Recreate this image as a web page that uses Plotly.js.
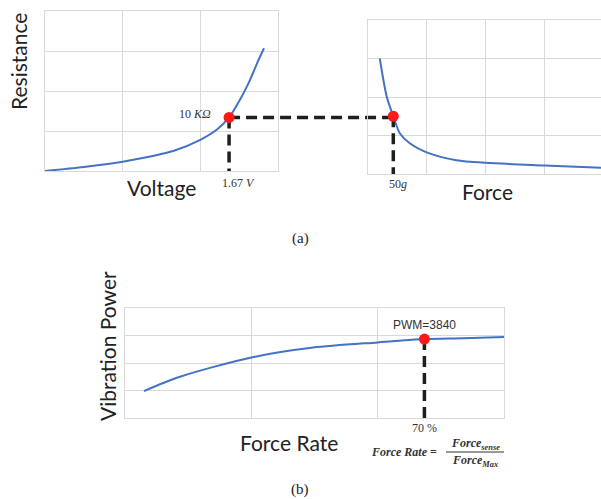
<!DOCTYPE html>
<html>
<head>
<meta charset="utf-8">
<script src="https://cdn.plot.ly/plotly-3.0.1.min.js"></script>
<style>html,body{margin:0;padding:0;background:#fff;}#chart{width:601px;height:499px;}</style>
</head>
<body>
<div id="chart"></div>
<script>
// ---- data (in grid-cell units) ----
const voltX = [0, 0.5, 1, 1.22, 1.65, 2.0, 2.21, 2.37, 2.51, 2.64, 2.75, 2.82];
const resY  = [0, 0.1, 0.23, 0.31, 0.5, 0.78, 1.03, 1.34, 1.78, 2.28, 2.78, 3.07];
const forceX = [0.2, 0.32, 0.43, 0.54, 0.71, 1.02, 1.5, 2.0, 3.0, 3.96];
const forceY = [3.0, 2.0, 1.5, 1.06, 0.8, 0.55, 0.36, 0.29, 0.22, 0.16];
const rateX = [0.15, 0.435, 1.0, 1.49, 2.0, 2.37, 2.68, 3.0];
const rateY = [0.98, 1.5, 2.2, 2.56, 2.75, 2.87, 2.9, 2.95];
// highlighted operating points
const ptVolt = [2.37], ptRes = [1.34];
const ptForce = [0.43], ptForceRes = [1.5];
const ptRate = [2.37], ptPower = [2.87];
// labels
const lblRes = "10 <i>KΩ</i>", lblVolt = "1.67 <i>V</i>", lblForce = "50<i>g</i>";
const lblPWM = "PWM=3840", lblRate = "70 %";

const blue = '#4472c4', red = '#ff1a1a', dashC = '#1e1e1e', gridC = '#d9d9d9';
const W = 601, H = 499;
const px = v => v / W, py = v => 1 - v / H;

const dom1x = [px(45), px(278)], dom1y = [py(171), py(11)], r1x = [0, 3], r1y = [0, 4];
const dom2x = [px(368), 1], dom2y = [py(174), py(20)], r2x = [0, 3.96], r2y = [0, 4];
const dom3x = [px(125), px(504)], dom3y = [py(418), py(308)], r3x = [0, 3], r3y = [0, 4];

function ax(dom, rng, mirror) {
  return {domain: dom, range: rng, dtick: 1, tick0: 0, showticklabels: false, ticks: '',
    showgrid: true, gridcolor: gridC, gridwidth: 1, zeroline: false,
    showline: true, linecolor: gridC, linewidth: 1, mirror: mirror, fixedrange: true};
}

const dashStyle = {color: dashC, width: 3.5, dash: '11px,6px'};
const curve = (x, y, xa, ya) => ({x, y, xaxis: xa, yaxis: ya, mode: 'lines', type: 'scatter',
  line: {color: blue, width: 2, shape: 'spline', smoothing: 0.8}, hoverinfo: 'skip'});
const drop = (x, y, xa, ya) => ({x: [x[0], x[0]], y: [y[0], 0], xaxis: xa, yaxis: ya, mode: 'lines', type: 'scatter',
  line: dashStyle, hoverinfo: 'skip'});
const dot = (x, y, xa, ya) => ({x, y, xaxis: xa, yaxis: ya, mode: 'markers', type: 'scatter',
  marker: {color: red, size: 11}, hoverinfo: 'skip'});

const data = [
  curve(voltX, resY, 'x', 'y'), drop(ptVolt, ptRes, 'x', 'y'),
  curve(forceX, forceY, 'x2', 'y2'), drop(ptForce, ptForceRes, 'x2', 'y2'),
  curve(rateX, rateY, 'x3', 'y3'), drop(ptRate, ptPower, 'x3', 'y3'),
  dot(ptVolt, ptRes, 'x', 'y'), dot(ptForce, ptForceRes, 'x2', 'y2'), dot(ptRate, ptPower, 'x3', 'y3')
];

// connector between the two upper panels (data x converted to paper through each axis' scale)
const toPaper = (v, dom, rng) => dom[0] + (v - rng[0]) / (rng[1] - rng[0]) * (dom[1] - dom[0]);
const shapes = [
  {type: 'line', xref: 'paper', yref: 'y', x0: toPaper(ptVolt[0], dom1x, r1x), x1: toPaper(ptForce[0], dom2x, r2x),
   y0: ptRes[0], y1: ptRes[0], line: dashStyle, layer: 'below'},
  // fraction bar of the formula
  {type: 'line', xref: 'paper', yref: 'paper', x0: px(446), x1: px(504), y0: py(452), y1: py(452),
   line: {color: '#333', width: 1}}
];

const sans = 'Lato, Carlito, "Open Sans", sans-serif';
const serif = '"Liberation Serif", "DejaVu Serif", serif';
const big = {family: sans, size: 21, color: '#222'};
const small = {family: serif, size: 12, color: '#333'};
const formula = {family: serif, size: 12, color: '#333'};

const A = (text, x, y, font, extra) => Object.assign({text, x: px(x), y: py(y), xref: 'paper', yref: 'paper',
  showarrow: false, font, xanchor: 'center', yanchor: 'middle'}, extra || {});

const annotations = [
  A('Resistance', 18, 62, big, {textangle: -90}),
  A('Voltage', 161, 188, big),
  A('Force', 488, 191, big),
  A('Vibration Power', 107, 346, big, {textangle: -90}),
  A('Force Rate', 289, 442, big),
  {text: lblRes, x: ptVolt[0], y: ptRes[0], xref: 'x', yref: 'y', showarrow: false, xanchor: 'right', yanchor: 'middle',
   xshift: -16, yshift: 3, font: small},
  {text: lblVolt, x: ptVolt[0], y: 0, xref: 'x', yref: 'y', showarrow: false, xanchor: 'center', yanchor: 'top',
   xshift: 9, yshift: -3, font: small},
  {text: lblForce, x: ptForce[0], y: 0, xref: 'x2', yref: 'y2', showarrow: false, xanchor: 'center', yanchor: 'top',
   xshift: 5, yshift: -1, font: small},
  {text: lblPWM, x: ptRate[0], y: ptPower[0], xref: 'x3', yref: 'y3', showarrow: false, xanchor: 'center', yanchor: 'bottom',
   yshift: 5, font: {family: '"Liberation Sans", Arial, sans-serif', size: 12, color: '#333'}},
  {text: lblRate, x: ptRate[0], y: 0, xref: 'x3', yref: 'y3', showarrow: false, xanchor: 'center', yanchor: 'top',
   yshift: -1, font: small},
  A('<b><i>Force Rate</i> =</b>', 404, 452, formula),
  A('<b><i>Force<sub>sense</sub></i></b>', 475, 444, formula),
  A('<b><i>Force<sub>Max</sub></i></b>', 475, 461, formula),
  A('(a)', 300, 239, {family: serif, size: 15, color: '#222'}),
  A('(b)', 300, 489, {family: serif, size: 15, color: '#222'})
];

const layout = {
  width: W, height: H, margin: {l: 0, r: 0, t: 0, b: 0}, showlegend: false,
  paper_bgcolor: '#fff', plot_bgcolor: '#fff',
  xaxis: ax(dom1x, r1x, true), yaxis: ax(dom1y, r1y, true),
  xaxis2: Object.assign(ax(dom2x, r2x, true), {anchor: 'y2'}),
  yaxis2: Object.assign(ax(dom2y, r2y, false), {anchor: 'x2'}),
  xaxis3: Object.assign(ax(dom3x, r3x, true), {anchor: 'y3'}),
  yaxis3: Object.assign(ax(dom3y, r3y, true), {anchor: 'x3'}),
  shapes, annotations
};
layout.xaxis.anchor = 'y'; layout.yaxis.anchor = 'x';

Plotly.newPlot('chart', data, layout, {staticPlot: true, displayModeBar: false});
</script>
</body>
</html>
